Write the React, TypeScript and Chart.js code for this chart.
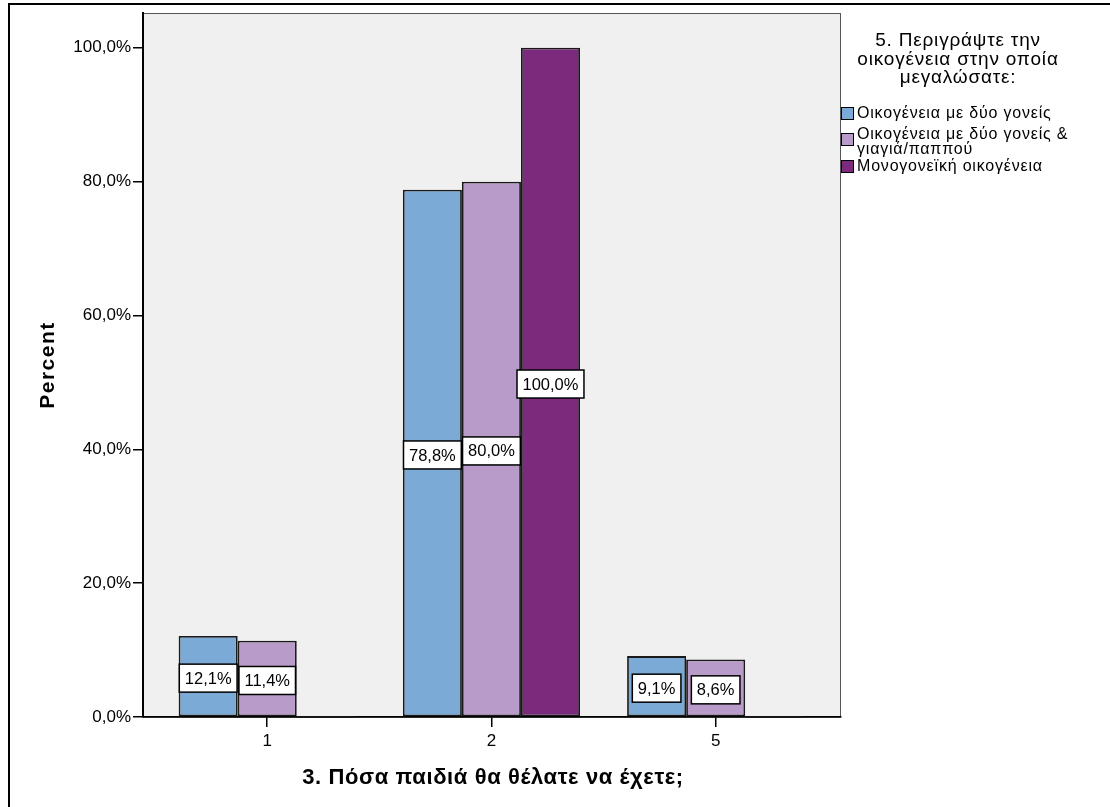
import React, { useEffect, useRef } from "react";
import { Chart, registerables } from "chart.js";

Chart.register(...registerables);

// ---- data ----
const categories = ["1", "2", "5"];
const twoParents = [12.1, 78.8, 9.1];
const twoParentsGrand = [11.4, 80.0, 8.6];
const singleParent = [0, 100.0, 0];
const yTicks = [0, 20, 40, 60, 80, 100];
const seriesLegend = [
  ["Οικογένεια με δύο γονείς"],
  ["Οικογένεια με δύο γονείς &", "γιαγιά/παππού"],
  ["Μονογονεϊκή οικογένεια"],
];
const legendTitle = ["5. Περιγράψτε την", "οικογένεια στην οποία", "μεγαλώσατε:"];
const xTitle = "3. Πόσα παιδιά θα θέλατε να έχετε;";
const yTitle = "Percent";

const seriesColors = ["#7BAAD6", "#B89BC8", "#7C2A7C"];
const FONT = '"Liberation Sans", Arial, sans-serif';

const fmt = (v: number) => v.toFixed(1).replace(".", ",") + "%";

export default function App() {
  const ref = useRef<HTMLCanvasElement | null>(null);

  useEffect(() => {
    const canvas = ref.current;
    if (!canvas) return;

    const seriesData = [twoParents, twoParentsGrand, singleParent];

    const setSpacing = (ctx: any, px: number) => {
      if ("letterSpacing" in ctx) ctx.letterSpacing = px + "px";
    };

    const decorPlugin = {
      id: "decor",
      beforeDraw(chart: any) {
        const { ctx, chartArea: a } = chart;
        ctx.save();
        ctx.fillStyle = "#ffffff";
        ctx.fillRect(0, 0, chart.width, chart.height);
        // outer frame
        ctx.strokeStyle = "#000";
        ctx.lineWidth = 2;
        ctx.beginPath();
        ctx.moveTo(9, 820);
        ctx.lineTo(9, 4);
        ctx.lineTo(1120, 4);
        ctx.stroke();
        // plot background
        ctx.fillStyle = "#F0F0F0";
        ctx.fillRect(a.left, a.top, a.right - a.left, a.bottom - a.top);
        ctx.strokeStyle = "#555";
        ctx.lineWidth = 1;
        ctx.strokeRect(a.left + 0.5, a.top + 0.5, a.right - a.left - 1, a.bottom - a.top);
        ctx.restore();
      },
      afterDatasetsDraw(chart: any) {
        const { ctx } = chart;
        ctx.save();
        // zero-height bars outline
        chart.data.datasets.forEach((ds: any, i: number) => {
          const meta = chart.getDatasetMeta(i);
          meta.data.forEach((bar: any, j: number) => {
            const v = ds.data[j].y;
            if (v === 0) {
              ctx.strokeStyle = "#1a1a1a";
              ctx.lineWidth = 1.5;
              ctx.beginPath();
              ctx.moveTo(bar.x - bar.width / 2, bar.base);
              ctx.lineTo(bar.x + bar.width / 2, bar.base);
              ctx.stroke();
            }
          });
        });
        // data labels
        ctx.font = `16.5px ${FONT}`;
        ctx.textAlign = "center";
        ctx.textBaseline = "middle";
        chart.data.datasets.forEach((ds: any, i: number) => {
          const meta = chart.getDatasetMeta(i);
          meta.data.forEach((bar: any, j: number) => {
            const v = ds.data[j].y;
            if (v <= 0) return;
            const txt = fmt(v);
            const tw = ctx.measureText(txt).width;
            const bw = tw + 11;
            const bh = 28;
            const cx = bar.x;
            const cy = (bar.y + bar.base) / 2 + 2;
            ctx.fillStyle = "#fff";
            ctx.fillRect(cx - bw / 2, cy - bh / 2, bw, bh);
            ctx.strokeStyle = "#000";
            ctx.lineWidth = 1.5;
            ctx.strokeRect(cx - bw / 2, cy - bh / 2, bw, bh);
            ctx.fillStyle = "#000";
            ctx.fillText(txt, cx, cy + 1);
          });
        });
        ctx.restore();
      },
      afterDraw(chart: any) {
        const { ctx, chartArea: a } = chart;
        ctx.save();
        ctx.fillStyle = "#000";
        // axis titles
        ctx.font = `bold 22px ${FONT}`;
        setSpacing(ctx, 0.6);
        ctx.textAlign = "center";
        ctx.textBaseline = "middle";
        ctx.fillText(xTitle, (a.left + a.right) / 2 + 1, 778);
        ctx.save();
        ctx.translate(48, 365);
        ctx.rotate(-Math.PI / 2);
        ctx.font = `bold 21px ${FONT}`;
        setSpacing(ctx, 1.5);
        ctx.fillText(yTitle, 0, 0);
        ctx.restore();
        // legend title
        ctx.font = `19px ${FONT}`;
        setSpacing(ctx, 0.8);
        legendTitle.forEach((line, k) => {
          ctx.fillText(line, 958, 41 + k * 18.5);
        });
        // legend items
        ctx.font = `16px ${FONT}`;
        setSpacing(ctx, 0.8);
        ctx.textAlign = "left";
        const itemTops = [107, 133, 160];
        seriesLegend.forEach((lines, k) => {
          const y0 = itemTops[k];
          ctx.fillStyle = seriesColors[k];
          ctx.fillRect(841, y0, 13, 13);
          ctx.strokeStyle = "#000";
          ctx.lineWidth = 1;
          ctx.strokeRect(841.5, y0 + 0.5, 12, 12);
          ctx.fillStyle = "#000";
          const startY = lines.length > 1 ? y0 + 2 : y0 + 6.5;
          lines.forEach((ln, m) => {
            ctx.fillText(ln, 857, startY + m * 14.5);
          });
        });
        ctx.restore();
      },
    };

    const chart = new Chart(canvas, {
      type: "bar",
      data: {
        datasets: seriesData.map((arr, i) => ({
          label: seriesLegend[i].join(" "),
          data: arr.map((v, j) => ({ x: j + 1, y: v })),
          backgroundColor: seriesColors[i],
          borderColor: "#1a1a1a",
          borderWidth: 1.8,
          borderSkipped: false,
          categoryPercentage: 0.79,
          barPercentage: 1.0,
        })),
      },
      options: {
        responsive: false,
        animation: false,
        layout: { padding: { left: 0, top: 13, right: 269, bottom: 0 } },
        plugins: {
          legend: { display: false },
          tooltip: { enabled: false },
          title: { display: false },
        },
        scales: {
          x: {
            type: "linear",
            min: 0.446,
            max: 3.559,
            offset: false,
            afterBuildTicks: (s: any) => {
              s.ticks = categories.map((_, i) => ({ value: i + 1 }));
            },
            afterFit: (s: any) => {
              s.height = 90;
            },
            ticks: {
              callback: (v: any) => categories[Math.round(Number(v)) - 1] ?? "",
              font: { family: FONT, size: 17 },
              color: "#000",
              padding: 4,
              maxRotation: 0,
              autoSkip: false,
            },
            grid: {
              offset: false,
              drawOnChartArea: false,
              drawTicks: true,
              tickLength: 10,
              color: "#000",
              lineWidth: 1.5,
            },
            border: { display: true, color: "#000", width: 1.5 },
          },
          y: {
            type: "linear",
            min: 0,
            max: 105.2,
            afterBuildTicks: (s: any) => {
              s.ticks = yTicks.map((v) => ({ value: v }));
            },
            afterFit: (s: any) => {
              s.width = 143;
            },
            ticks: {
              callback: (v: any) => fmt(Number(v)),
              font: { family: FONT, size: 17 },
              color: "#000",
              padding: 2,
            },
            grid: {
              drawOnChartArea: false,
              drawTicks: true,
              tickLength: 10,
              color: "#000",
              lineWidth: 1.5,
            },
            border: { display: true, color: "#000", width: 2 },
          },
        },
      },
      plugins: [decorPlugin],
    } as any);

    return () => chart.destroy();
  }, []);

  return (
    <div style={{ position: "absolute", left: 0, top: 0, width: 1110, height: 807 }}>
      <canvas ref={ref} width={1110} height={807} style={{ display: "block" }} />
    </div>
  );
}
